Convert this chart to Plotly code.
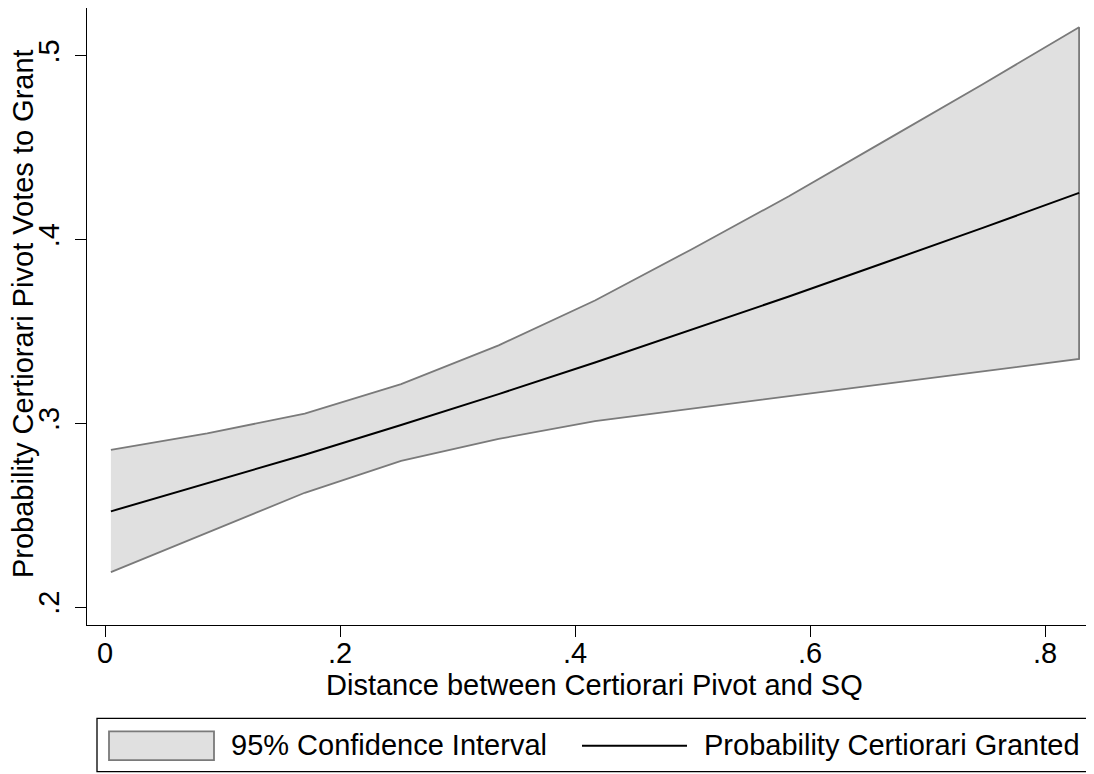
import plotly.graph_objects as go

# ---- data ----
distance = [0.005, 0.087, 0.170, 0.252, 0.335, 0.417, 0.499, 0.582, 0.664, 0.747, 0.829]
prob_granted = [0.2521, 0.2672, 0.2829, 0.2991, 0.3159, 0.3331, 0.3508, 0.3690, 0.3875, 0.4063, 0.4254]
ci_upper = [0.2855, 0.2945, 0.3053, 0.3213, 0.3424, 0.3668, 0.3946, 0.4235, 0.4538, 0.4845, 0.5155]
ci_lower = [0.2190, 0.2405, 0.2622, 0.2795, 0.2915, 0.3012, 0.3080, 0.3148, 0.3215, 0.3283, 0.3350]

x_ticks = [0, 0.2, 0.4, 0.6, 0.8]
x_ticklabels = ["0", ".2", ".4", ".6", ".8"]
y_ticks = [0.2, 0.3, 0.4, 0.5]
y_ticklabels = [".2", ".3", ".4", ".5"]

x_title = "Distance between Certiorari Pivot and SQ"
y_title = "Probability Certiorari Pivot Votes to Grant"
legend_ci = "95% Confidence Interval"
legend_line = "Probability Certiorari Granted"

FONT = "Liberation Sans, Arial, Helvetica, sans-serif"
FS = 29
OFF = 8  # page body margin offset
W, H = 1094 - OFF, 774 - OFF
# plot area in screen pixels of the reference
L, R, T, B = 87, 1094, 4, 625

def px_x(p):
    return (p - L) / (R - L)

def px_y(p):
    return (B - p) / (B - T)

fig = go.Figure()

# confidence band as a closed polygon
fig.add_trace(go.Scatter(
    x=distance + distance[::-1],
    y=ci_upper + ci_lower[::-1],
    fill="toself",
    fillcolor="#e0e0e0",
    line=dict(color="#7a7a7a", width=1.8),
    mode="lines",
    hoverinfo="skip",
    showlegend=False,
))
fig.add_trace(go.Scatter(
    x=distance, y=prob_granted,
    mode="lines",
    line=dict(color="black", width=2),
    showlegend=False,
))

axis_common = dict(
    showgrid=False, zeroline=False,
    showline=True, linecolor="black", linewidth=1.3, mirror=True,
    ticks="outside", ticklen=11, tickwidth=1.2, tickcolor="black",
    tickfont=dict(family=FONT, size=FS, color="black"),
)

fig.update_layout(
    width=W, height=H,
    margin=dict(l=L - OFF, r=W - (R - OFF), t=max(T - OFF, 0),
                b=H - (B - OFF), autoexpand=False),
    paper_bgcolor="white", plot_bgcolor="white",
    xaxis=dict(range=[-0.01532, 0.8417], tickvals=x_ticks, ticktext=x_ticklabels,
               ticklabelstandoff=-9, **axis_common),
    yaxis=dict(range=[0.19027, 0.52595], tickvals=y_ticks, ticktext=y_ticklabels,
               tickangle=-90, ticklabelstandoff=4, **axis_common),
    showlegend=False,
)

annotations = [
    dict(text=x_title, x=px_x(594), y=px_y(685), xref="paper", yref="paper",
         xanchor="center", yanchor="middle", showarrow=False,
         font=dict(family=FONT, size=FS, color="black")),
    dict(text=y_title, x=px_x(23), y=px_y(312), xref="paper", yref="paper",
         xanchor="center", yanchor="middle", showarrow=False, textangle=-90,
         font=dict(family=FONT, size=FS, color="black")),
    dict(text=legend_ci, x=px_x(229), y=px_y(746), xref="paper", yref="paper",
         xanchor="left", yanchor="middle", showarrow=False,
         font=dict(family=FONT, size=FS, color="black")),
    dict(text=legend_line, x=px_x(702), y=px_y(746), xref="paper", yref="paper",
         xanchor="left", yanchor="middle", showarrow=False,
         font=dict(family=FONT, size=FS, color="black")),
]
fig.update_layout(annotations=annotations)

shapes = [
    # legend frame
    dict(type="rect", xref="paper", yref="paper",
         x0=px_x(97), x1=px_x(1089), y0=px_y(719), y1=px_y(772.5),
         line=dict(color="black", width=1.3), fillcolor="white", layer="below"),
    # legend key: band
    dict(type="rect", xref="paper", yref="paper",
         x0=px_x(109), x1=px_x(214), y0=px_y(732), y1=px_y(761),
         line=dict(color="#7a7a7a", width=1.8), fillcolor="#e0e0e0"),
    # legend key: line
    dict(type="line", xref="paper", yref="paper",
         x0=px_x(582), x1=px_x(687), y0=px_y(746.5), y1=px_y(746.5),
         line=dict(color="black", width=2)),
]
fig.update_layout(shapes=shapes)

fig.write_html("out.html")
